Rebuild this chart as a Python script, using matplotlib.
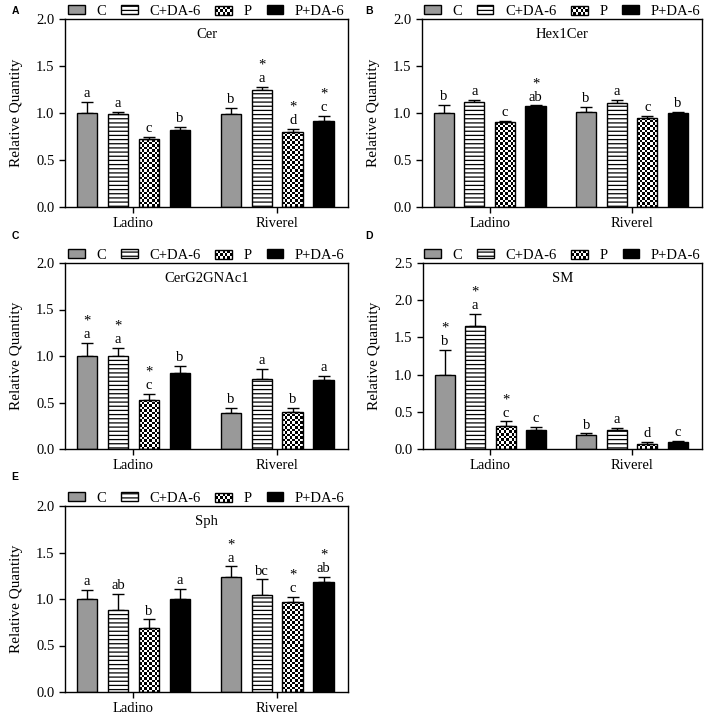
import numpy as np
import matplotlib
matplotlib.use('Agg')
import matplotlib.pyplot as plt
from matplotlib.patches import Rectangle, Patch

plt.rcParams['font.family'] = 'Liberation Serif'
plt.rcParams['font.size'] = 10.5
plt.rcParams['hatch.linewidth'] = 0.9

groups = ['Ladino', 'Riverel']
treatments = ['C', 'C+DA-6', 'P', 'P+DA-6']

# order in each list: Ladino C, C+DA-6, P, P+DA-6, then Riverel C, C+DA-6, P, P+DA-6
cer_mean = [1.00, 0.99, 0.72, 0.82, 0.99, 1.25, 0.80, 0.92]
cer_err = [0.12, 0.02, 0.03, 0.03, 0.06, 0.03, 0.03, 0.05]
cer_lab = ['a', 'a', 'c', 'b', 'b', '*a', '*d', '*c']

hex_mean = [1.00, 1.12, 0.90, 1.07, 1.01, 1.11, 0.95, 1.00]
hex_err = [0.09, 0.02, 0.02, 0.01, 0.05, 0.03, 0.02, 0.01]
hex_lab = ['b', 'a', 'c', '*ab', 'b', 'a', 'c', 'b']

cerg_mean = [1.00, 1.00, 0.53, 0.82, 0.39, 0.75, 0.40, 0.74]
cerg_err = [0.14, 0.09, 0.06, 0.07, 0.05, 0.11, 0.04, 0.05]
cerg_lab = ['*a', '*a', '*c', 'b', 'b', 'a', 'b', 'a']

sm_mean = [1.00, 1.65, 0.31, 0.26, 0.19, 0.25, 0.07, 0.10]
sm_err = [0.33, 0.17, 0.06, 0.04, 0.02, 0.03, 0.02, 0.01]
sm_lab = ['*b', '*a', '*c', 'c', 'b', 'a', 'd', 'c']

sph_mean = [1.00, 0.88, 0.69, 1.00, 1.24, 1.04, 0.97, 1.18]
sph_err = [0.10, 0.17, 0.09, 0.11, 0.11, 0.17, 0.05, 0.06]
sph_lab = ['a', 'ab', 'b', 'a', '*a', 'bc', '*c', '*ab']

W, H = 708, 718
panels = [
    ('A', 'Cer', cer_mean, cer_err, cer_lab, 2.0, (65, 19, 283, 188), (15, 11)),
    ('B', 'Hex1Cer', hex_mean, hex_err, hex_lab, 2.0, (422, 19, 280, 188), (369, 11)),
    ('C', 'CerG2GNAc1', cerg_mean, cerg_err, cerg_lab, 2.0, (65, 263, 283, 186), (15, 236)),
    ('D', 'SM', sm_mean, sm_err, sm_lab, 2.5, (423, 263, 279, 186), (369, 236)),
    ('E', 'Sph', sph_mean, sph_err, sph_lab, 2.0, (65, 506, 283, 186), (15, 477)),
]

gray = '#999999'
group_pos = np.array([0.0, 4.65])
offsets = np.array([-1.5, -0.5, 0.5, 1.5])
bw = 0.66
cell = 2.5


class CheckerHandler:
    def legend_artist(self, legend, orig_handle, fontsize, handlebox):
        x0, y0 = handlebox.xdescent, handlebox.ydescent
        w, h = handlebox.width, handlebox.height
        nx, ny = 7, 3
        cw, ch = w / nx, h / ny
        tr = handlebox.get_transform()
        for i in range(ny):
            for j in range(nx):
                if (i + j) % 2:
                    handlebox.add_artist(Rectangle((x0 + j * cw, y0 + i * ch), cw, ch,
                                                   facecolor='black', edgecolor='none', transform=tr))
        frame = Rectangle((x0, y0), w, h, facecolor='none', edgecolor='black', lw=1, transform=tr)
        handlebox.add_artist(frame)
        return frame


def checker_fill(ax, bar):
    x0, y0 = bar.get_x(), bar.get_y()
    w, h = bar.get_width(), bar.get_height()
    p0 = ax.transData.transform((x0, y0))
    p1 = ax.transData.transform((x0 + w, y0 + h))
    nx = max(1, int(round((p1[0] - p0[0]) / cell)))
    ny = max(1, int(round((p1[1] - p0[1]) / cell)))
    board = np.indices((ny, nx)).sum(axis=0) % 2
    im = ax.imshow(board, cmap='gray_r', vmin=0, vmax=1, extent=(x0, x0 + w, y0, y0 + h),
                   origin='lower', aspect='auto', interpolation='nearest', zorder=1.5)
    im.set_clip_path(bar)


fig = plt.figure(figsize=(W / 100, H / 100), dpi=100)

for letter, title, mean, err, labs, ymax, (l, t, w, h), (lx, ly) in panels:
    ax = fig.add_axes([l / W, 1 - (t + h) / H, w / W, h / H])
    ax.set_xlim(-2.21, 6.94)
    ax.set_ylim(0, ymax)
    mean = np.array(mean).reshape(2, 4)
    err = np.array(err).reshape(2, 4)
    labs = np.array(labs).reshape(2, 4)
    for k in range(4):
        x = group_pos + offsets[k]
        if k == 0:
            bars = ax.bar(x, mean[:, k], bw, color=gray, edgecolor='black', lw=1, zorder=2)
        elif k == 1:
            bars = ax.bar(x, mean[:, k], bw, color='white', edgecolor='black', lw=1,
                          hatch='----', zorder=2)
        elif k == 2:
            bars = ax.bar(x, mean[:, k], bw, color='none', edgecolor='black', lw=1, zorder=2)
            for b in bars:
                checker_fill(ax, b)
        else:
            bars = ax.bar(x, mean[:, k], bw, color='black', edgecolor='black', lw=1, zorder=2)
        ax.errorbar(x, mean[:, k], yerr=[np.zeros(2), err[:, k]], fmt='none',
                    ecolor='black', elinewidth=1, capsize=4, capthick=1, zorder=1.8)
        for xi, top, lab in zip(x, mean[:, k] + err[:, k], labs[:, k]):
            txt = lab.replace('*', '*\n')
            ax.annotate(txt, (xi, top), xytext=(0, 3.5), textcoords='offset points',
                        ha='center', va='baseline', linespacing=1.05)
    ax.set_xlim(-2.21, 6.94)
    ax.set_ylim(0, ymax)
    ax.set_yticks(np.arange(0, ymax + 0.01, 0.5))
    ax.yaxis.set_major_formatter(matplotlib.ticker.FormatStrFormatter('%.1f'))
    ax.set_xticks(group_pos + 0.0)
    ax.set_xticklabels(groups)
    ax.tick_params(direction='out', length=4, width=1, colors='black')
    for s in ax.spines.values():
        s.set_linewidth(1)
        s.set_color('black')
    ax.set_ylabel('Relative Quantity', fontsize=11)
    ax.yaxis.set_label_coords(-0.15, 0.5)
    ax.text(0.5, 0.915, title, transform=ax.transAxes, ha='center', va='center')

    handles = [Patch(facecolor=gray, edgecolor='black', lw=1),
               Patch(facecolor='white', edgecolor='black', lw=1, hatch='----'),
               Patch(facecolor='white', edgecolor='black'),
               Patch(facecolor='black', edgecolor='black', lw=1)]
    ax.legend(handles, treatments, ncol=4, loc='lower center', bbox_to_anchor=(0.5, 1.0),
              frameon=False, handlelength=1.15, handleheight=0.6,
              handletextpad=0.8, columnspacing=1.0, borderaxespad=0.0, borderpad=0.1,
              handler_map={handles[2]: CheckerHandler()})

    fig.text(lx / W, 1 - ly / H, letter, family='Liberation Sans', fontweight='bold',
             fontsize=7.5, ha='center', va='center')

fig.savefig('out.png', dpi=100)
